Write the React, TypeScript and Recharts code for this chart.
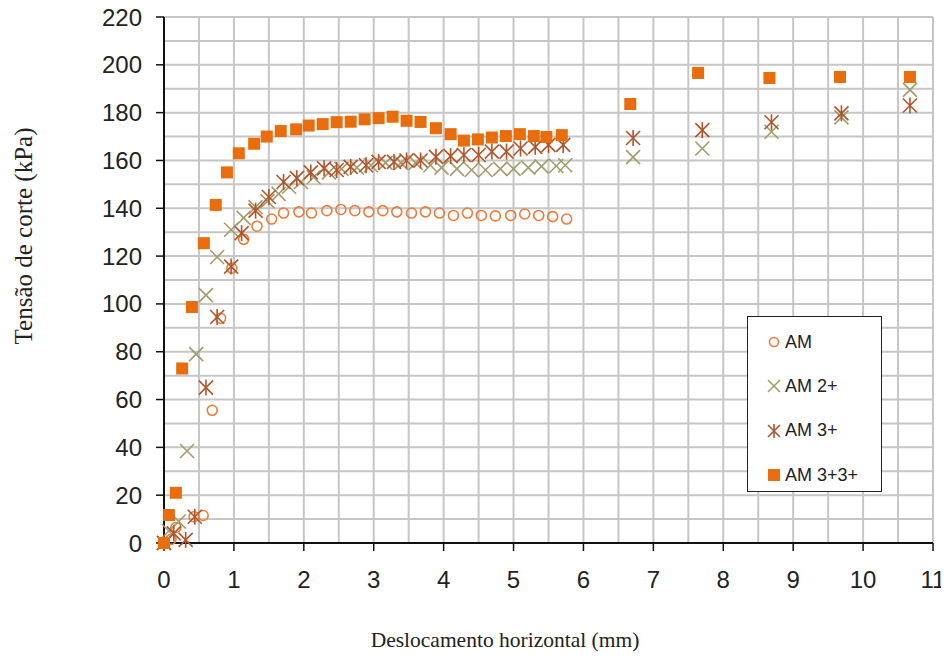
import React from 'react';
import { ScatterChart, Scatter, XAxis, YAxis, CartesianGrid, Legend } from 'recharts';

// readings from the shear box plot
const amX = [0, 0.1, 0.17, 0.43, 0.56, 0.69, 0.81, 0.97, 1.14, 1.33, 1.54, 1.71, 1.93, 2.11, 2.33, 2.53, 2.73, 2.93, 3.13, 3.33, 3.54, 3.74, 3.94, 4.14, 4.34, 4.54, 4.74, 4.96, 5.16, 5.36, 5.56, 5.76];
const amY = [0, 1.5, 6.5, 11, 11.5, 55.5, 94, 115, 127, 132.5, 135.5, 138, 138.5, 138, 139, 139.5, 139, 138.5, 139, 138.5, 138, 138.5, 138, 137, 138, 137, 136.8, 137, 137.6, 137, 136.5, 135.5];

const am2X = [0, 0.07, 0.21, 0.33, 0.46, 0.6, 0.76, 0.96, 1.14, 1.31, 1.48, 1.64, 1.79, 1.96, 2.14, 2.36, 2.54, 2.76, 2.96, 3.17, 3.39, 3.6, 3.81, 3.97, 4.19, 4.4, 4.6, 4.81, 5.0, 5.21, 5.4, 5.61, 5.74, 6.71, 7.7, 8.69, 9.69, 10.67];
const am2Y = [0, 5, 9, 38.5, 79, 103.7, 119.6, 131, 136, 140.5, 143, 146, 149, 151, 153, 155, 156.5, 157, 158, 159, 159, 159, 158, 157, 156.5, 156, 156, 156.5, 156.5, 157, 157.5, 157.7, 158, 161.4, 165, 172, 178, 189.5];

const am3X = [0, 0.14, 0.31, 0.44, 0.6, 0.76, 0.96, 1.11, 1.31, 1.5, 1.71, 1.9, 2.1, 2.29, 2.47, 2.67, 2.89, 3.07, 3.29, 3.47, 3.67, 3.89, 4.1, 4.29, 4.5, 4.69, 4.9, 5.1, 5.31, 5.5, 5.71, 6.71, 7.7, 8.69, 9.69, 10.67];
const am3Y = [0, 4, 1.3, 11, 65, 94.5, 115.6, 129.6, 139, 144.7, 151, 152.6, 155, 156.7, 156, 157.3, 158, 159.4, 159.4, 160, 160, 161.5, 161.8, 162.3, 162.3, 163.7, 163.7, 165, 165.7, 166.5, 166.5, 169.4, 172.7, 176, 179.7, 183];

const am33X = [0, 0.07, 0.17, 0.26, 0.4, 0.57, 0.74, 0.9, 1.07, 1.29, 1.47, 1.67, 1.89, 2.07, 2.27, 2.47, 2.67, 2.87, 3.07, 3.27, 3.47, 3.67, 3.89, 4.1, 4.29, 4.49, 4.69, 4.89, 5.09, 5.29, 5.47, 5.69, 6.67, 7.64, 8.66, 9.67, 10.67];
const am33Y = [0, 11.7, 21, 73, 98.7, 125.4, 141.4, 155, 163, 167, 170, 172.3, 173, 174.6, 175.2, 176, 176.2, 177.2, 177.7, 178.3, 176.6, 176.1, 173.5, 171, 168.3, 168.8, 169.6, 170.2, 171, 170.2, 169.8, 170.6, 183.6, 196.6, 194.5, 194.9, 194.9];

const xTicks = [0, 1, 2, 3, 4, 5, 6, 7, 8, 9, 10, 11];
const yTicks = [0, 20, 40, 60, 80, 100, 120, 140, 160, 180, 200, 220];
const xGrid = [0.5, 1, 1.5, 2, 2.5, 3, 3.5, 4, 4.5, 5, 5.5, 6, 6.5, 7, 7.5, 8, 8.5, 9, 9.5, 10, 10.5, 11];
const yGrid = [10, 20, 30, 40, 50, 60, 70, 80, 90, 100, 110, 120, 130, 140, 150, 160, 170, 180, 190, 200, 210, 220];

const zip = (xs: number[], ys: number[]) => xs.map((x, i) => ({ x, y: ys[i] }));

const C_AM = '#ef7b3a';
const C_AM2 = '#a29c6a';
const C_AM3 = '#b0552a';
const C_AM33 = '#e96d0c';

const SANS = 'Arial, "Liberation Sans", sans-serif';
const SERIF = '"Times New Roman", "Liberation Serif", serif';

const CircleMark = ({ cx, cy, s = 5 }: any) => (
  <circle cx={cx} cy={cy} r={s} fill="none" stroke={C_AM} strokeWidth={1.6} />
);

const CrossMark = ({ cx, cy, s = 7 }: any) => (
  <g stroke={C_AM2} strokeWidth={1.6}>
    <line x1={cx - s} y1={cy - s} x2={cx + s} y2={cy + s} />
    <line x1={cx - s} y1={cy + s} x2={cx + s} y2={cy - s} />
  </g>
);

const StarMark = ({ cx, cy, s = 7 }: any) => (
  <g stroke={C_AM3} strokeWidth={1.6}>
    <line x1={cx - s} y1={cy - s} x2={cx + s} y2={cy + s} />
    <line x1={cx - s} y1={cy + s} x2={cx + s} y2={cy - s} />
    <line x1={cx} y1={cy - s - 1} x2={cx} y2={cy + s + 1} />
  </g>
);

const SquareMark = ({ cx, cy, s = 6 }: any) => (
  <rect x={cx - s} y={cy - s} width={s * 2} height={s * 2} fill={C_AM33} />
);

const series = [
  { name: 'AM', data: zip(amX, amY), Mark: CircleMark, ls: 4.5 },
  { name: 'AM 2+', data: zip(am2X, am2Y), Mark: CrossMark, ls: 6 },
  { name: 'AM 3+', data: zip(am3X, am3Y), Mark: StarMark, ls: 6 },
  { name: 'AM 3+3+', data: zip(am33X, am33Y), Mark: SquareMark, ls: 6 },
];

const LegendBox = () => (
  <div
    style={{
      width: 135,
      height: 176,
      boxSizing: 'border-box',
      border: '1.5px solid #222',
      background: '#fff',
      fontFamily: SANS,
      fontSize: 18,
      color: '#222',
      paddingTop: 3,
    }}
  >
    {series.map((s) => (
      <div key={s.name} style={{ display: 'flex', alignItems: 'center', height: 44.3 }}>
        <svg width={36} height={20} style={{ flex: 'none' }}>
          <s.Mark cx={26} cy={10} s={s.ls} />
        </svg>
        <span style={{ marginLeft: 1 }}>{s.name}</span>
      </div>
    ))}
  </div>
);

const App = () => {
  return (
    <ScatterChart
      width={941}
      height={654}
      margin={{ top: 9, right: 16, bottom: 0, left: 0 }}
      style={{ overflow: 'visible' }}
    >
      <CartesianGrid
        stroke="#c6c6c6"
        strokeWidth={2}
        verticalValues={xGrid}
        horizontalValues={yGrid}
      />
      <XAxis
        type="number"
        dataKey="x"
        domain={[0, 11]}
        ticks={xTicks}
        interval={0}
        height={119}
        tickSize={8}
        tickMargin={20}
        axisLine={{ stroke: '#111', strokeWidth: 2 }}
        tickLine={{ stroke: '#111', strokeWidth: 1.5 }}
        tick={{ fill: '#222', fontSize: 24, fontFamily: SANS }}
        label={{
          content: () => (
            <text x={497} y={639} textAnchor="middle" fill="#222" fontSize={21.5} fontFamily={SERIF}>
              Deslocamento horizontal (mm)
            </text>
          ),
        }}
      />
      <YAxis
        type="number"
        dataKey="y"
        domain={[0, 220]}
        ticks={yTicks}
        interval={0}
        width={156}
        tickSize={8}
        tickMargin={14}
        axisLine={{ stroke: '#111', strokeWidth: 2 }}
        tickLine={{ stroke: '#111', strokeWidth: 1.5 }}
        tick={{ fill: '#222', fontSize: 24, fontFamily: SANS }}
        label={{
          content: () => (
            <text
              x={15}
              y={228}
              transform="rotate(-90 15 228)"
              textAnchor="middle"
              dominantBaseline="central"
              fill="#222"
              fontSize={25}
              fontFamily={SERIF}
            >
              Tensão de corte (kPa)
            </text>
          ),
        }}
      />
      <Legend
        layout="vertical"
        align="center"
        verticalAlign="middle"
        wrapperStyle={{ left: 739, top: 308, width: 135, height: 176 }}
        content={() => <LegendBox />}
      />
      {series.map((s) => (
        <Scatter
          key={s.name}
          name={s.name}
          data={s.data}
          isAnimationActive={false}
          shape={(p: any) => <s.Mark cx={p.cx} cy={p.cy} />}
        />
      ))}
    </ScatterChart>
  );
};

export default App;
